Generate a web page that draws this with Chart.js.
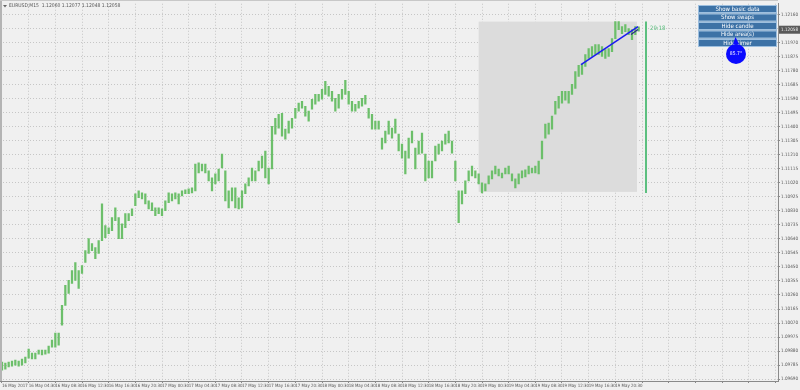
<!DOCTYPE html>
<html lang="en">
<head>
    <meta charset="UTF-8">
    <title>EURUSD,M15</title>
    <script src="https://cdn.jsdelivr.net/npm/chart.js"></script>
    <style>
        body {
            margin: 0;
            padding: 0;
            background-color: #f0f0f0;
        }

        #wrap {
            position: relative;
            width: 800px;
            height: 390px;
        }
    </style>
</head>
<body>
    <div id="wrap">
        <canvas id="priceChart"></canvas>
    </div>

    <script>
        // Half-hour samples (M15 bars read in pairs), 16 May 00:30 .. 19 May 22:00
        const highs = [
            1.09805, 1.09799, 1.09805, 1.09812, 1.09819, 1.09812, 1.09826, 1.09839, 1.09893, 1.09866,
            1.09866, 1.09886, 1.09886, 1.09886, 1.09913, 1.09954, 1.10001, 1.10001, 1.10190, 1.10325,
            1.10359, 1.10426, 1.10480, 1.10426, 1.10460, 1.10561, 1.10642, 1.10608, 1.10581, 1.10628,
            1.10878, 1.10730, 1.10716, 1.10784, 1.10851, 1.10784, 1.10743, 1.10811, 1.10811, 1.10844,
            1.10946, 1.10966, 1.10952, 1.10946, 1.10898, 1.10885, 1.10851, 1.10851, 1.10844, 1.10898,
            1.10952, 1.10946, 1.10952, 1.10946, 1.10966, 1.10973, 1.10979, 1.10986, 1.11148, 1.11155,
            1.11148, 1.11148, 1.11101, 1.11054, 1.11081, 1.11114, 1.11215, 1.11101, 1.10966, 1.10986,
            1.10986, 1.10919, 1.10966, 1.11013, 1.11054, 1.11121, 1.11101, 1.11168, 1.11202, 1.11236,
            1.11121, 1.11404, 1.11458, 1.11485, 1.11492, 1.11384, 1.11438, 1.11458, 1.11526, 1.11560,
            1.11573, 1.11539, 1.11506, 1.11587, 1.11620, 1.11620, 1.11654, 1.11708, 1.11674, 1.11641,
            1.11593, 1.11620, 1.11654, 1.11715, 1.11641, 1.11573, 1.11553, 1.11573, 1.11593, 1.11614,
            1.11526, 1.11485, 1.11438, 1.11438, 1.11323, 1.11371, 1.11438, 1.11391, 1.11452, 1.11350,
            1.11283, 1.11236, 1.11323, 1.11371, 1.11256, 1.11303, 1.11357, 1.11215, 1.11168, 1.11168,
            1.11269, 1.11283, 1.11303, 1.11350, 1.11371, 1.11303, 1.11168, 1.10966, 1.10966, 1.11033,
            1.11101, 1.11134, 1.11101, 1.11081, 1.11020, 1.11013, 1.11067, 1.11101, 1.11134, 1.11114,
            1.11087, 1.11121, 1.11134, 1.11081, 1.11047, 1.11081, 1.11101, 1.11108, 1.11134, 1.11121,
            1.11134, 1.11168, 1.11303, 1.11418, 1.11425, 1.11472, 1.11573, 1.11607, 1.11641, 1.11641,
            1.11641, 1.11688, 1.11775, 1.11816, 1.11823, 1.11890, 1.11931, 1.11944, 1.11958, 1.11958,
            1.11944, 1.11924, 1.11931, 1.11998, 1.12113, 1.12113, 1.12079, 1.12093, 1.12066, 1.12059,
            1.12079, 1.12077
        ];
        const lows = [
            1.09751, 1.09758, 1.09772, 1.09778, 1.09785, 1.09778, 1.09785, 1.09799, 1.09832, 1.09826,
            1.09826, 1.09859, 1.09853, 1.09859, 1.09866, 1.09907, 1.09907, 1.09920, 1.10055, 1.10190,
            1.10271, 1.10338, 1.10359, 1.10305, 1.10406, 1.10480, 1.10541, 1.10561, 1.10507, 1.10541,
            1.10628, 1.10649, 1.10676, 1.10696, 1.10763, 1.10642, 1.10642, 1.10716, 1.10763, 1.10797,
            1.10865, 1.10919, 1.10912, 1.10878, 1.10844, 1.10831, 1.10797, 1.10811, 1.10797, 1.10831,
            1.10885, 1.10898, 1.10912, 1.10878, 1.10932, 1.10946, 1.10946, 1.10952, 1.10966, 1.11087,
            1.11101, 1.11087, 1.11033, 1.10966, 1.11013, 1.11033, 1.11121, 1.10898, 1.10851, 1.10898,
            1.10851, 1.10844, 1.10851, 1.10946, 1.11000, 1.11033, 1.11033, 1.11101, 1.11121, 1.11054,
            1.11013, 1.11114, 1.11350, 1.11391, 1.11337, 1.11317, 1.11357, 1.11391, 1.11458, 1.11506,
            1.11526, 1.11472, 1.11438, 1.11519, 1.11553, 1.11573, 1.11587, 1.11620, 1.11607, 1.11573,
            1.11506, 1.11526, 1.11587, 1.11620, 1.11553, 1.11506, 1.11506, 1.11526, 1.11539, 1.11553,
            1.11458, 1.11384, 1.11384, 1.11384, 1.11249, 1.11290, 1.11350, 1.11323, 1.11357, 1.11236,
            1.11188, 1.11081, 1.11188, 1.11290, 1.11114, 1.11215, 1.11222, 1.11033, 1.11054, 1.11054,
            1.11168, 1.11215, 1.11236, 1.11283, 1.11290, 1.11222, 1.11033, 1.10750, 1.10878, 1.10946,
            1.11033, 1.11067, 1.11054, 1.11013, 1.10952, 1.10966, 1.11013, 1.11047, 1.11081, 1.11067,
            1.11054, 1.11081, 1.11081, 1.11033, 1.10986, 1.11013, 1.11054, 1.11060, 1.11081, 1.11087,
            1.11087, 1.11081, 1.11182, 1.11323, 1.11350, 1.11384, 1.11485, 1.11526, 1.11560, 1.11580,
            1.11560, 1.11620, 1.11661, 1.11742, 1.11755, 1.11809, 1.11863, 1.11877, 1.11890, 1.11890,
            1.11877, 1.11863, 1.11877, 1.11910, 1.11998, 1.12059, 1.12032, 1.12045, 1.12025, 1.11991,
            1.12025, 1.12048
        ];

        // time axis labels, one every 8 samples (4 hours)
        const timeLabels = [
            '16 May 2017', '16 May 04:30', '16 May 08:30', '16 May 12:30', '16 May 16:30', '16 May 20:30',
            '17 May 00:30', '17 May 04:30', '17 May 08:30', '17 May 12:30', '17 May 16:30', '17 May 20:30',
            '18 May 00:30', '18 May 04:30', '18 May 08:30', '18 May 12:30', '18 May 16:30', '18 May 20:30',
            '19 May 00:30', '19 May 04:30', '19 May 08:30', '19 May 12:30', '19 May 16:30', '19 May 20:30'
        ];

        const priceTicks = [
            1.09690, 1.09785, 1.09880, 1.09975, 1.10070, 1.10165, 1.10260, 1.10355, 1.10450,
            1.10545, 1.10640, 1.10735, 1.10830, 1.10925, 1.11020, 1.11115, 1.11210, 1.11305,
            1.11400, 1.11495, 1.11590, 1.11685, 1.11780, 1.11875, 1.11970, 1.12065, 1.12160
        ];

        // header quote: open, high, low, close of the last bar
        const lastQuote = [1.12060, 1.12077, 1.12048, 1.12058];

        // highlighted area (sample index range + price range)
        const areaRange = [143, 190.5];
        const areaPrices = [1.10959, 1.12113];

        // blue trend lines
        const trendX = [173.7, 190.8];
        const trendY = [1.11822, 1.12079];
        const trend2X = [188.7, 190.8];
        const trend2Y = [1.12025, 1.12059];

        // timer line
        const timerX = 193.2;
        const timerPrices = [1.12113, 1.10952];

        const buttons = ['Show basic data', 'Show swaps', 'Hide candle', 'Hide area(s)', 'Hide timer'];

        const FONT = '"DejaVu Sans Condensed", "Liberation Sans Narrow", "Liberation Sans", sans-serif';

        const overlayPlugin = {
            id: 'overlay',
            beforeDatasetsDraw(chart) {
                const { ctx, scales: { x, y } } = chart;
                ctx.save();
                ctx.fillStyle = '#dcdcdc';
                const x0 = x.getPixelForValue(areaRange[0]);
                const x1 = x.getPixelForValue(areaRange[1]);
                const y0 = y.getPixelForValue(areaPrices[1]);
                const y1 = y.getPixelForValue(areaPrices[0]);
                ctx.fillRect(x0, y0, x1 - x0, y1 - y0);
                ctx.restore();
            },
            afterDraw(chart) {
                const { ctx, scales: { x, y }, chartArea } = chart;
                ctx.save();

                // left edge strip + top line
                ctx.fillStyle = '#b4b4b4';
                ctx.fillRect(0, 0, 2, chartArea.bottom);
                ctx.fillStyle = '#c8c8c8';
                ctx.fillRect(0, 0, chartArea.right, 1);

                // header
                ctx.fillStyle = '#666';
                ctx.beginPath();
                ctx.moveTo(3, 5); ctx.lineTo(7, 5); ctx.lineTo(5, 7.5);
                ctx.fill();
                ctx.fillStyle = '#555';
                ctx.font = '5px ' + FONT;
                ctx.textBaseline = 'middle';
                ctx.textAlign = 'left';
                ctx.fillText('EURUSD,M15  ' + lastQuote.map(v => v.toFixed(5)).join(' '), 9, 6);

                // timer text
                ctx.fillStyle = '#5cbf7f';
                ctx.font = '6px ' + FONT;
                ctx.fillText('29:18', x.getPixelForValue(timerX) + 4, y.getPixelForValue(timerPrices[0]) + 7);

                // current price label
                const cy = y.getPixelForValue(lastQuote[3]);
                ctx.fillStyle = '#5a5a5a';
                ctx.fillRect(chartArea.right + 1, cy - 4, 21, 8);
                ctx.fillStyle = '#f0f0f0';
                ctx.font = '4.6px ' + FONT;
                ctx.fillText(lastQuote[3].toFixed(5), chartArea.right + 3, cy);

                // buttons
                ctx.textAlign = 'center';
                ctx.font = '6px ' + FONT;
                buttons.forEach((b, i) => {
                    const by = 5 + i * 8.5;
                    ctx.fillStyle = '#3d72a6';
                    ctx.fillRect(698, by, 79, 8);
                    ctx.strokeStyle = '#9dbfdf';
                    ctx.lineWidth = 1;
                    ctx.strokeRect(698.5, by + 0.5, 78, 7);
                    ctx.fillStyle = '#ffffff';
                    ctx.fillText(b, 737.5, by + 4.3);
                });

                // angle bubble
                ctx.fillStyle = '#0a0aff';
                ctx.beginPath();
                ctx.moveTo(733, 44);
                ctx.lineTo(735.5, 37);
                ctx.lineTo(739, 44);
                ctx.fill();
                ctx.beginPath();
                ctx.arc(736, 54, 10, 0, Math.PI * 2);
                ctx.fill();
                ctx.fillStyle = '#ffffff';
                ctx.font = '5px ' + FONT;
                ctx.fillText('85.7°', 736, 54);

                ctx.restore();
            }
        };

        const ctx = document.getElementById('priceChart').getContext('2d');
        const priceChart = new Chart(ctx, {
            type: 'bar',
            data: {
                datasets: [
                    {
                        label: 'EURUSD',
                        data: highs.map((h, i) => ({ x: i, y: [lows[i], h] })),
                        backgroundColor: '#6cbf6a',
                        borderWidth: 0,
                        barThickness: 1.6,
                        order: 2
                    },
                    {
                        type: 'line',
                        data: trendX.map((v, i) => ({ x: v, y: trendY[i] })),
                        borderColor: '#1c1cf0',
                        borderWidth: 1.5,
                        pointRadius: 0,
                        order: 1
                    },
                    {
                        type: 'line',
                        data: trend2X.map((v, i) => ({ x: v, y: trend2Y[i] })),
                        borderColor: '#2a2a8a',
                        borderWidth: 1.2,
                        pointRadius: 0,
                        order: 1
                    },
                    {
                        type: 'line',
                        data: timerPrices.map(p => ({ x: timerX, y: p })),
                        borderColor: '#5cbf7f',
                        borderWidth: 2,
                        pointRadius: 0,
                        order: 1
                    }
                ]
            },
            options: {
                responsive: true,
                maintainAspectRatio: false,
                animation: false,
                layout: { padding: { top: 2, left: 0, right: 0, bottom: 0 } },
                plugins: {
                    legend: { display: false },
                    tooltip: { enabled: false }
                },
                scales: {
                    x: {
                        type: 'linear',
                        offset: false,
                        min: -0.6,
                        max: 232.8,
                        afterBuildTicks: scale => {
                            const t = [];
                            for (let k = 0; k <= 232; k += 8) t.push({ value: k });
                            scale.ticks = t;
                        },
                        afterFit: scale => { scale.height = 9; },
                        grid: {
                            offset: false,
                            color: '#c6c6c6',
                            tickColor: '#8a8a8a',
                            tickLength: 2
                        },
                        border: { display: true, color: '#8a8a8a', dash: [1, 2] },
                        ticks: {
                            align: 'start',
                            maxRotation: 0,
                            autoSkip: false,
                            padding: 0,
                            color: '#555',
                            font: { size: 4.4, family: FONT },
                            callback: v => timeLabels[v / 8] || ''
                        }
                    },
                    y: {
                        type: 'linear',
                        position: 'right',
                        min: 1.09677,
                        max: 1.12234,
                        afterBuildTicks: scale => {
                            scale.ticks = priceTicks.map(v => ({ value: v }));
                        },
                        afterFit: scale => { scale.width = 22; },
                        grid: {
                            color: '#c6c6c6',
                            tickColor: '#8a8a8a',
                            tickLength: 2
                        },
                        border: { display: true, color: '#8a8a8a', dash: [1, 2] },
                        ticks: {
                            padding: 1,
                            color: '#555',
                            font: { size: 4.6, family: FONT },
                            callback: v => v.toFixed(5)
                        }
                    }
                }
            },
            plugins: [overlayPlugin]
        });
    </script>
</body>
</html>
